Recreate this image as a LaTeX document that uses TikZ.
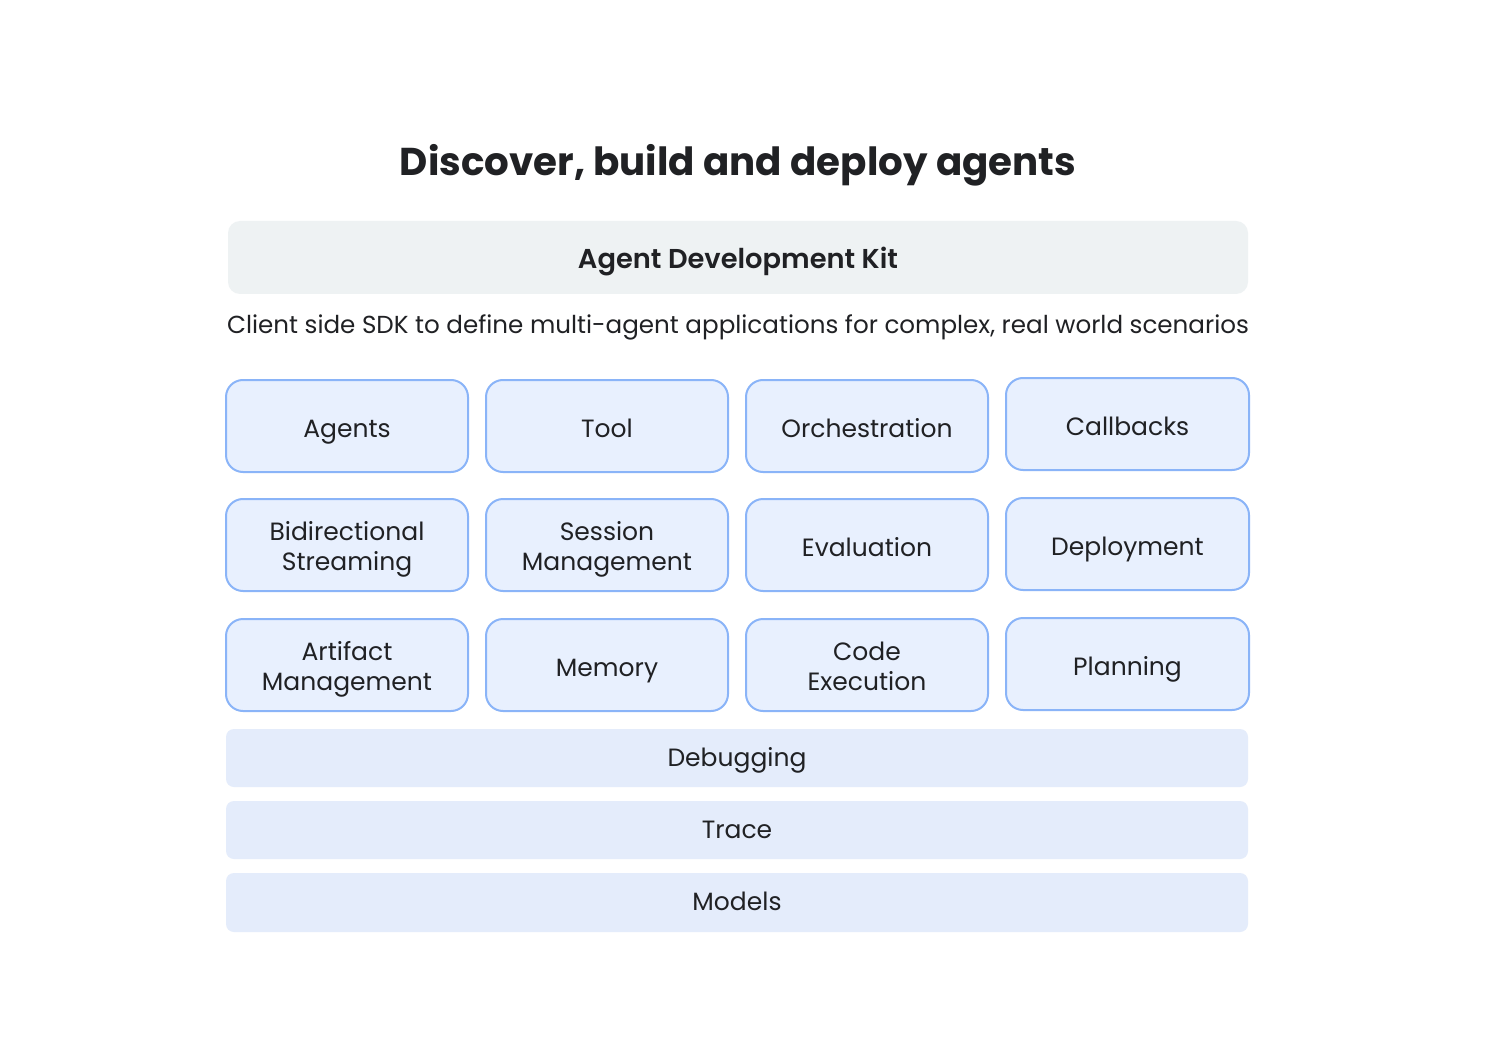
\documentclass[tikz,border=0pt]{standalone}
\usepackage{fontspec}
\setmainfont{Poppins}
\newfontfamily\popsemi{Poppins SemiBold}
\begin{document}
\begin{tikzpicture}[x=1pt,y=-1pt,
  cell/.style={draw=cellborder,line width=2pt,fill=cellfill,rounded corners=17pt,text=txt,font=\fontsize{25}{30}\selectfont,align=center,text height=22pt,text depth=0pt},
  twoline/.style={text height=51pt,text depth=0pt},
  bar/.style={fill=barfill,rounded corners=8pt,text=txt,font=\fontsize{25}{30}\selectfont,text height=18pt,text depth=2pt},
]
\definecolor{cellborder}{HTML}{8AB4F8}
\definecolor{cellfill}{HTML}{E8F0FE}
\definecolor{barfill}{HTML}{E4ECFB}
\definecolor{adkfill}{HTML}{EEF2F3}
\definecolor{txt}{HTML}{202124}
\useasboundingbox (0,0) rectangle (1506,1064);
\fill[white] (0,0) rectangle (1506,1064);
\node[anchor=base,text=txt,font=\fontsize{38.8}{44}\selectfont\bfseries] (title) at (738,176) {Discover, build and deploy agents};
\path[fill=adkfill,rounded corners=12pt] (228,221) rectangle (1248,294);
\node[anchor=base,text=txt,font=\fontsize{27.3}{32}\popsemi] (adk) at (738,269) {Agent Development Kit};
\node[anchor=base,text=txt,font=\fontsize{24.6}{30}\selectfont] (sub) at (738,334) {Client side SDK to define multi-agent applications for complex, real world scenarios};
% grid
\node[cell,minimum width=242pt,minimum height=92pt] (agents) at (347,426) {Agents};
\node[cell,minimum width=242pt,minimum height=92pt] (tool) at (607,426) {Tool};
\node[cell,minimum width=242pt,minimum height=92pt] (orch) at (867,426) {Orchestration};
\node[cell,minimum width=243pt,minimum height=92pt] (callbacks) at (1127.5,424) {Callbacks};
\node[cell,twoline,minimum width=242pt,minimum height=92pt] (bidi) at (347,545) {Bidirectional\\Streaming};
\node[cell,twoline,minimum width=242pt,minimum height=92pt] (session) at (607,545) {Session\\Management};
\node[cell,minimum width=242pt,minimum height=92pt] (eval) at (867,545) {Evaluation};
\node[cell,minimum width=243pt,minimum height=92pt] (deploy) at (1127.5,544) {Deployment};
\node[cell,twoline,minimum width=242pt,minimum height=92pt] (artifact) at (347,665) {Artifact\\Management};
\node[cell,minimum width=242pt,minimum height=92pt] (memory) at (607,665) {Memory};
\node[cell,twoline,minimum width=242pt,minimum height=92pt] (code) at (867,665) {Code\\Execution};
\node[cell,minimum width=243pt,minimum height=92pt] (planning) at (1127.5,664) {Planning};
% bars
\node[bar,minimum width=1022pt,minimum height=58pt] (debug) at (737,758) {Debugging};
\node[bar,minimum width=1022pt,minimum height=58pt] (trace) at (737,830) {Trace};
\node[bar,minimum width=1022pt,minimum height=59pt] (models) at (737,902.5) {Models};
\end{tikzpicture}
\end{document}
